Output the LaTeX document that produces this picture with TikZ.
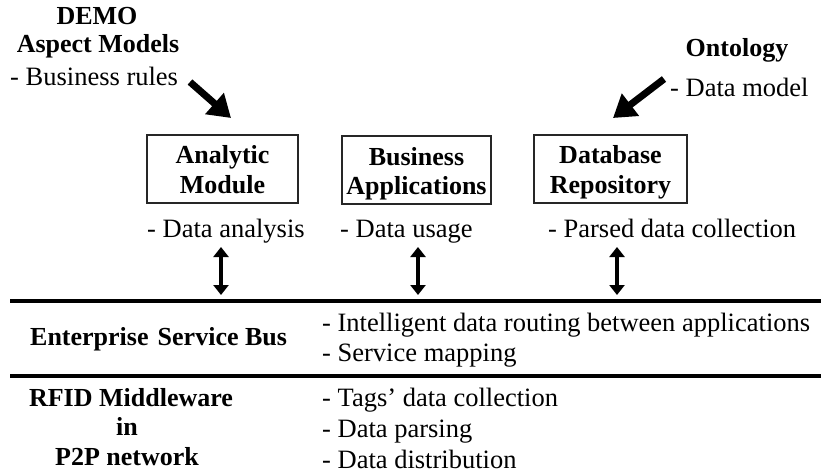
\documentclass[tikz,border=0pt]{standalone}
\usepackage{fontspec}
\setmainfont{Liberation Serif}
\usetikzlibrary{arrows.meta}
\begin{document}
\begin{tikzpicture}[x=1pt,y=-1pt,
  txt/.style={anchor=base west, inner sep=0pt, font=\fontsize{26.5}{30}\selectfont},
  btxt/.style={anchor=base, inner sep=0pt, font=\fontsize{26}{30}\selectfont\bfseries},
  bltxt/.style={anchor=base west, inner sep=0pt, font=\fontsize{26}{30}\selectfont\bfseries},
  modbox/.style={draw=black!85, line width=1.3pt, inner sep=0pt, minimum height=68pt},
  bus/.style={line width=3.6pt},
  dbl/.style={line width=3.6pt, {Triangle[width=15pt,length=10pt]}-{Triangle[width=15pt,length=10pt]}},
  big/.style={line width=7pt, -{Triangle[width=27pt,length=22pt]}}]
\useasboundingbox (0,0) rectangle (821,476);
% top-left source
\node[btxt] (demo) at (97,25) {DEMO};
\node[btxt] (asp) at (98,53) {Aspect Models};
\node[txt] (brules) at (10,86) {- Business rules};
% top-right source
\node[btxt] (onto) at (737,57) {Ontology};
\node[txt] (dmodel) at (670,97) {- Data model};
% boxes
\node[modbox, minimum width=151pt] (am) at (222.5,169) {};
\node[modbox, minimum width=149pt] (ba) at (416.5,170) {};
\node[modbox, minimum width=153pt] (dr) at (610.5,169) {};
\node[btxt] (am1) at (222.5,163) {Analytic};
\node[btxt] (am2) at (222.5,193) {Module};
\node[btxt] (ba1) at (416.5,165) {Business};
\node[btxt] (ba2) at (416.5,194) {Applications};
\node[btxt] (dr1) at (610.5,163) {Database};
\node[btxt] (dr2) at (610.5,193) {Repository};
% box notes
\node[txt] (n1) at (147,237) {- Data analysis};
\node[txt] (n2) at (340,237) {- Data usage};
\node[txt] (n3) at (548,237) {- Parsed data collection};
% diagonal arrows
\coordinate (l0) at (190,82);
\coordinate (l1) at (231,118);
\coordinate (r0) at (664,79);
\coordinate (r1) at (613,118);
\draw[big] (l0) -- (l1);
\draw[big] (r0) -- (r1);
% double arrows
\coordinate (a1t) at (221,247);
\coordinate (a1b) at (221,295);
\coordinate (a2t) at (418,247);
\coordinate (a2b) at (418,295);
\coordinate (a3t) at (617,247);
\coordinate (a3b) at (617,295);
\draw[dbl] (a1t) -- (a1b);
\draw[dbl] (a2t) -- (a2b);
\draw[dbl] (a3t) -- (a3b);
% bus lines
\coordinate (b1l) at (10,301);
\coordinate (b1r) at (821,301);
\coordinate (b2l) at (10,376);
\coordinate (b2r) at (821,376);
\draw[bus] (b1l) -- (b1r);
\draw[bus] (b2l) -- (b2r);
% ESB layer
\node[bltxt] (esb) at (30,345) {Enterprise\hspace{0.35em}Service Bus};
\node[txt] (e1) at (322,331) {- Intelligent data routing between applications};
\node[txt] (e2) at (322,361) {- Service mapping};
% RFID layer
\node[btxt] (rf1) at (131,406) {RFID Middleware};
\node[btxt] (rf2) at (127,435) {in};
\node[btxt] (rf3) at (127,465) {P2P network};
\node[txt] (r1t) at (322,406) {- Tags' data collection};
\node[txt] (r2t) at (322,437) {- Data parsing};
\node[txt] (r3t) at (322,468) {- Data distribution};
\end{tikzpicture}
\end{document}
